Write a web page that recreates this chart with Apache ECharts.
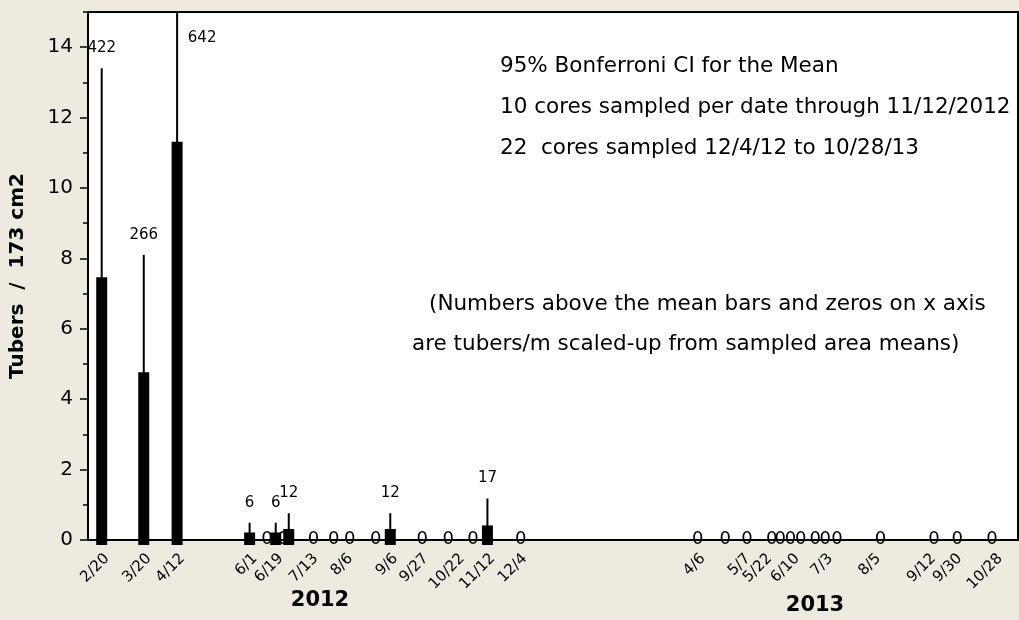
<!DOCTYPE html>
<html>
<head>
<meta charset="utf-8">
<script src="https://cdn.jsdelivr.net/npm/echarts@6/dist/echarts.min.js"></script>
<style>
  html, body { margin: 0; padding: 0; background: #eeeae0; }
  #chart { width: 1019px; height: 620px; }
</style>
</head>
<body>
<div id="chart"></div>
<script>
// sampling dates, mean tubers per core (173 cm2), upper Bonferroni CI, scaled-up labels (tubers/m2)
var sampleDates = [
    "2012-02-20", "2012-03-20", "2012-04-12", "2012-06-01", "2012-06-13", "2012-06-19",
    "2012-06-24", "2012-06-28", "2012-07-15", "2012-07-29", "2012-08-09", "2012-08-27",
    "2012-09-06", "2012-09-28", "2012-10-16", "2012-11-02", "2012-11-12", "2012-12-05",
    "2013-04-06", "2013-04-25", "2013-05-10", "2013-05-27", "2013-06-02", "2013-06-09",
    "2013-06-16", "2013-06-26", "2013-07-03", "2013-07-11", "2013-08-10", "2013-09-16",
    "2013-10-02", "2013-10-26"
];
var meanTubers = [
    7.35, 4.65, 11.2, 0.1, 0, 0.1,
    0, 0.2, 0, 0, 0, 0,
    0.2, 0, 0, 0, 0.3, 0,
    0, 0, 0, 0, 0, 0,
    0, 0, 0, 0, 0, 0,
    0, 0
];
var upperCI = [
    13.4, 8.1, 19, 0.49, 0, 0.49,
    0, 0.76, 0, 0, 0, 0,
    0.76, 0, 0, 0, 1.18, 0,
    0, 0, 0, 0, 0, 0,
    0, 0, 0, 0, 0, 0,
    0, 0
];
var densityLabels = [
    "422", "266", "642", "6", "0", "6",
    "0", "12", "0", "0", "0", "0",
    "12", "0", "0", "0", "17", "0",
    "0", "0", "0", "0", "0", "0",
    "0", "0", "0", "0", "0", "0",
    "0", "0"
];
var tickDates = [
    "2012-02-20", "2012-03-20", "2012-04-12", "2012-06-01", "2012-06-19", "2012-07-13",
    "2012-08-06", "2012-09-06", "2012-09-27", "2012-10-22", "2012-11-12", "2012-12-04",
    "2013-04-06", "2013-05-07", "2013-05-22", "2013-06-10", "2013-07-03", "2013-08-05",
    "2013-09-12", "2013-09-30", "2013-10-28"
];
var yTicks = [0, 2, 4, 6, 8, 10, 12, 14];
var yMinorTicks = [1, 3, 5, 7, 9, 11, 13, 15];
var notes = [
    "95% Bonferroni CI for the Mean",
    "10 cores sampled per date through 11/12/2012",
    "22  cores sampled 12/4/12 to 10/28/13"
];
var footNotes = [
    "(Numbers above the mean bars and zeros on x axis",
    "are tubers/m scaled-up from sampled area means)"
];

var FONT = "DejaVu Sans";
var DAY = 24 * 3600 * 1000;
var yMax = 15;

function toTime(s) {
    var p = s.split("-");
    return new Date(+p[0], +p[1] - 1, +p[2]).getTime();
}

var barData = [];
var zeroData = [];
sampleDates.forEach(function (d, i) {
    var row = [toTime(d), meanTubers[i], upperCI[i], densityLabels[i]];
    if (meanTubers[i] > 0) {
        barData.push(row);
    } else {
        zeroData.push(row);
    }
});

function renderBar(params, api) {
    var x = api.value(0);
    var mean = api.value(1);
    var upper = api.value(2);
    var label = barData[params.dataIndex][3];
    var base = api.coord([x, 0]);
    var top = api.coord([x, mean]);
    var hi = api.coord([x, Math.min(upper, yMax)]);
    var clipped = upper > yMax;

    var children = [
        {
            type: "line",
            shape: { x1: base[0], y1: top[1], x2: base[0], y2: hi[1] },
            style: { stroke: "#000", lineWidth: 2 }
        },
        {
            type: "rect",
            shape: { x: base[0] - 5.5, y: top[1] - 4, width: 11, height: base[1] - top[1] + 9 },
            style: { fill: "#000" }
        },
        {
            type: "text",
            x: clipped ? base[0] + 25 : base[0],
            y: clipped ? hi[1] + 26 : hi[1] - 20,
            style: {
                text: label,
                fontSize: 15,
                fontFamily: FONT,
                fill: "#000",
                align: "center",
                verticalAlign: "middle"
            }
        }
    ];
    return { type: "group", children: children };
}

function renderZero(params, api) {
    var p = api.coord([api.value(0), 0]);
    return {
        type: "text",
        x: p[0],
        y: p[1] - 1,
        style: {
            text: zeroData[params.dataIndex][3],
            fontSize: 18,
            fontFamily: FONT,
            fill: "#000",
            align: "center",
            verticalAlign: "middle"
        }
    };
}

var graphics = [];
notes.forEach(function (t, i) {
    graphics.push({
        type: "text",
        x: 500,
        y: 66 + i * 41,
        style: { text: t, fontSize: 21.5, fontFamily: FONT, fill: "#000", verticalAlign: "middle" }
    });
});
footNotes.forEach(function (t, i) {
    graphics.push({
        type: "text",
        x: i === 0 ? 429 : 412,
        y: 304 + i * 40,
        style: { text: t, fontSize: 21.5, fontFamily: FONT, fill: "#000", verticalAlign: "middle" }
    });
});
graphics.push({
    type: "text", x: 320, y: 601,
    style: { text: "2012", fontSize: 21, fontWeight: "bold", fontFamily: FONT, fill: "#000", align: "center", verticalAlign: "middle" }
});
graphics.push({
    type: "text", x: 815, y: 606,
    style: { text: "2013", fontSize: 21, fontWeight: "bold", fontFamily: FONT, fill: "#000", align: "center", verticalAlign: "middle" }
});

var chart = echarts.init(document.getElementById("chart"));

var option = {
    backgroundColor: "#eeeae0",
    animation: false,
    grid: {
        left: 88,
        right: 1,
        top: 12,
        bottom: 80,
        show: true,
        backgroundColor: "#fff",
        borderColor: "#000",
        borderWidth: 2
    },
    xAxis: {
        type: "value",
        min: toTime("2012-02-20") - 9.45 * DAY,
        max: toTime("2013-10-28") + 15.9 * DAY,
        splitLine: { show: false },
        axisLine: { lineStyle: { color: "#000", width: 2 } },
        axisTick: { show: false },
        axisLabel: {
            customValues: tickDates.map(toTime),
            rotate: 45,
            margin: 11,
            verticalAlign: "top",
            fontSize: 15,
            fontFamily: FONT,
            color: "#000",
            formatter: function (v) {
                var d = new Date(v);
                return (d.getMonth() + 1) + "/" + d.getDate();
            }
        }
    },
    yAxis: [
        {
            type: "value",
            min: 0,
            max: yMax,
            name: "Tubers  /  173 cm2",
            nameLocation: "middle",
            nameRotate: 90,
            nameGap: 60,
            nameTextStyle: { fontSize: 20, fontWeight: "bold", fontFamily: FONT, color: "#000" },
            splitLine: { show: false },
            axisLine: { show: true, lineStyle: { color: "#000", width: 2 } },
            axisTick: { customValues: yTicks, length: 8, lineStyle: { color: "#000", width: 1.5 } },
            axisLabel: { customValues: yTicks, margin: 15, fontSize: 20, fontFamily: FONT, color: "#000" }
        },
        {
            type: "value",
            min: 0,
            max: yMax,
            position: "left",
            splitLine: { show: false },
            axisLine: { show: false },
            axisTick: { customValues: yMinorTicks, length: 5, lineStyle: { color: "#000", width: 1.5 } },
            axisLabel: { show: false }
        }
    ],
    graphic: graphics,
    series: [
        {
            type: "custom",
            name: "zeros",
            z: 3,
            renderItem: renderZero,
            encode: { x: 0, y: 1 },
            data: zeroData
        },
        {
            type: "custom",
            name: "means",
            z: 4,
            renderItem: renderBar,
            encode: { x: 0, y: [1, 2] },
            data: barData
        }
    ]
};

chart.setOption(option);
</script>
</body>
</html>
